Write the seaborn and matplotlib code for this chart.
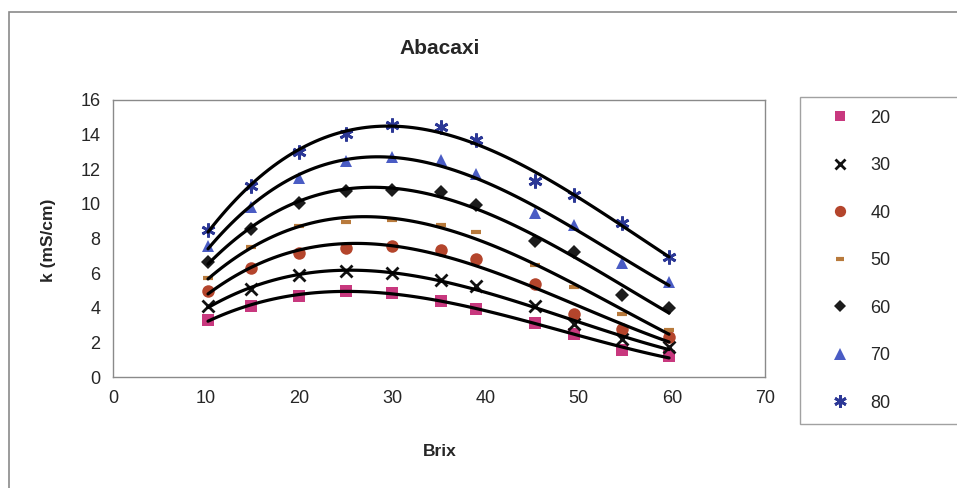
import matplotlib
matplotlib.use("Agg")
import matplotlib.pyplot as plt
from matplotlib.lines import Line2D
from matplotlib.patches import Rectangle
import numpy as np
import pandas as pd
import seaborn as sns

# Brix levels (°Brix) at which conductivity was measured
brix = [10.2, 14.8, 20.0, 25.0, 30.0, 35.2, 39.0, 45.3, 49.5, 54.6, 59.7]

# Electrical conductivity k (mS/cm) per temperature (°C)
k_20 = [3.3, 4.1, 4.7, 5.0, 4.85, 4.4, 3.95, 3.15, 2.5, 1.6, 1.2]
k_30 = [4.1, 5.1, 5.9, 6.1, 6.0, 5.6, 5.25, 4.1, 3.1, 2.2, 1.75]
k_40 = [4.95, 6.3, 7.15, 7.45, 7.55, 7.35, 6.8, 5.35, 3.65, 2.8, 2.35]
k_50 = [5.7, 7.5, 8.7, 8.95, 9.05, 8.8, 8.35, 6.5, 5.2, 3.65, 2.7]
k_60 = [6.65, 8.55, 10.05, 10.75, 10.8, 10.7, 9.95, 7.85, 7.25, 4.75, 4.0]
k_70 = [7.55, 9.8, 11.5, 12.45, 12.7, 12.5, 11.7, 9.45, 8.75, 6.6, 5.5]
k_80 = [8.5, 11.0, 13.0, 14.05, 14.55, 14.45, 13.65, 11.3, 10.5, 8.9, 6.95]

temps = ["20", "30", "40", "50", "60", "70", "80"]
series = [k_20, k_30, k_40, k_50, k_60, k_70, k_80]

df = pd.concat(
    [pd.DataFrame({"Brix": brix, "k": vals, "T": t}) for t, vals in zip(temps, series)],
    ignore_index=True,
)

colors = {
    "20": "#c8387e",
    "30": "#111111",
    "40": "#b4452c",
    "50": "#b87a3c",
    "60": "#1c1c1c",
    "70": "#4a5cc4",
    "80": "#2c3896",
}
markers = {"20": "s", "30": "x", "40": "o", "50": "_", "60": "D", "70": "^", "80": (6, 2, 0)}
msize = {"20": 8, "30": 8, "40": 9, "50": 7, "60": 7, "70": 9, "80": 10}
medge = {"20": 0, "30": 2.0, "40": 0, "50": 3.0, "60": 0, "70": 0, "80": 2.0}

sns.set_style("white")
plt.rcParams["font.family"] = ["Liberation Sans", "DejaVu Sans"]

W, H = 957, 488
fig = plt.figure(figsize=(W / 100, H / 100), dpi=100)

# chart border
fig.patches.append(Rectangle((9 / W, -0.05), 1.2, (H - 12) / H + 0.05, transform=fig.transFigure,
                             fill=False, edgecolor="#8a8a8a", linewidth=1.2))

ax = fig.add_axes([113 / W, (H - 377.3) / H, (765 - 113) / W, (377.3 - 99.7) / H])

for t in temps:
    sub = df[df["T"] == t]
    ax.plot(sub["Brix"], sub["k"], linestyle="none", marker=markers[t], markersize=msize[t],
            color=colors[t], markeredgewidth=medge[t], zorder=2)
    sns.regplot(data=sub, x="Brix", y="k", order=3, ci=None, scatter=False, ax=ax,
                line_kws={"color": "black", "linewidth": 2.3, "zorder": 3})

ax.set_xlim(0, 70)
ax.set_ylim(0, 16)
ax.set_xticks(range(0, 71, 10))
ax.set_yticks(range(0, 17, 2))
ax.tick_params(axis="both", direction="out", length=5, width=1, color="#808080",
               labelsize=13, pad=4)
for s in ax.spines.values():
    s.set_color("#8a8a8a")
    s.set_linewidth(1.0)
ax.set_xlabel("")
ax.set_ylabel("")

fig.text(440 / W, 1 - 48 / H, "Abacaxi", ha="center", va="center", fontsize=15, fontweight="bold",
         family=["Liberation Sans Narrow", "Liberation Sans"])
fig.text(440 / W, 1 - 451 / H, "Brix", ha="center", va="center", fontsize=12.5, fontweight="bold")
fig.text(48 / W, 1 - 240 / H, "k (mS/cm)", ha="center", va="center", rotation=90,
         fontsize=12.5, fontweight="bold")

handles = [Line2D([], [], linestyle="none", marker=markers[t], markersize=msize[t] * 0.9,
                  color=colors[t], markeredgewidth=medge[t]) for t in temps]
leg = fig.legend(handles, temps, loc="upper left",
                 bbox_to_anchor=(800 / W, 1 - 97 / H - 0.01, 300 / W, 0.01), mode="expand",
                 frameon=True, fontsize=13, labelspacing=1.69, handlelength=3.0,
                 handletextpad=0.2, borderpad=0.7, borderaxespad=0, fancybox=False)
leg.get_frame().set_edgecolor("#8a8a8a")
leg.get_frame().set_linewidth(1.0)

fig.savefig("out.png", dpi=100)
